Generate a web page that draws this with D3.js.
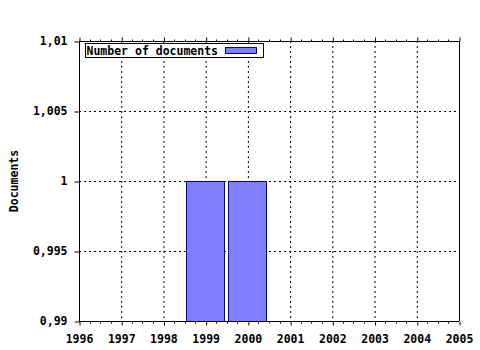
<!DOCTYPE html>
<html>
<head>
<meta charset="utf-8">
<script src="https://cdn.jsdelivr.net/npm/d3@7"></script>
<style>
    body { margin: 0; background: #fff; }
    text { font-family: "DejaVu Sans Mono", monospace; font-weight: bold; font-size: 11.5px; }
</style>
</head>
<body>
<div id="chart"></div>
<script>
// data
const years = [1999, 2000];
const documents = [1, 1];
const xTicks = [1996, 1997, 1998, 1999, 2000, 2001, 2002, 2003, 2004, 2005];
const yTicks = [0.99, 0.995, 1, 1.005, 1.01];
const seriesName = "Number of documents";

const margin = { top: 41, right: 21, bottom: 29, left: 79 };
const width = 480 - margin.left - margin.right;
const height = 350 - margin.top - margin.bottom;

const svg = d3.select("#chart")
    .append("svg")
    .attr("width", 480)
    .attr("height", 350)
    .append("g")
    .attr("transform", `translate(${margin.left},${margin.top})`);

const x = d3.scaleLinear().domain([1996, 2005]).range([0, width]);
const y = d3.scaleLinear().domain([0.99, 1.01]).range([height, 0]);

// grid
svg.append("g")
    .selectAll("line")
    .data(xTicks.slice(1, -1))
    .join("line")
    .attr("x1", d => x(d) + 0.5).attr("x2", d => x(d) + 0.5)
    .attr("y1", 0).attr("y2", height)
    .attr("stroke", "#000")
    .attr("stroke-dasharray", "2,3");
svg.append("g")
    .selectAll("line")
    .data(yTicks.slice(1, -1))
    .join("line")
    .attr("x1", 0).attr("x2", width)
    .attr("y1", d => Math.round(y(d)) + 0.5).attr("y2", d => Math.round(y(d)) + 0.5)
    .attr("stroke", "#000")
    .attr("stroke-dasharray", "2,3");

// bars
const barW = (x(1) - x(0)) * 0.9;
svg.append("g")
    .selectAll("rect")
    .data(years.map((yr, i) => [yr, documents[i]]))
    .join("rect")
    .attr("x", ([yr, _]) => Math.floor(x(yr) - barW / 2) + 0.5)
    .attr("y", ([_, v]) => Math.round(y(v)) + 0.5)
    .attr("width", Math.round(barW))
    .attr("height", ([_, v]) => height - Math.round(y(v)))
    .attr("fill", "#8080ff")
    .attr("stroke", "#0000a0")
    .attr("stroke-width", 1);

// minor x ticks (quarters)
const minor = [];
for (let t = 1996; t < 2005; t++) {
    for (let q = 1; q < 4; q++) minor.push(t + q / 4);
}

// bottom axis
const xAxis = d3.axisBottom(x)
    .tickValues(xTicks)
    .tickFormat(d3.format("d"))
    .tickSize(4)
    .tickPadding(9);
const gx = svg.append("g")
    .attr("transform", `translate(0,${height + 0.5})`)
    .call(xAxis);
gx.select(".domain").attr("d", `M0,0H${width}`);
gx.selectAll("line").attr("transform", "translate(0.5,0)");
gx.selectAll(".minor")
    .data(minor)
    .join("line")
    .attr("class", "minor")
    .attr("x1", d => Math.round(x(d)) + 0.5).attr("x2", d => Math.round(x(d)) + 0.5)
    .attr("y1", 0).attr("y2", 2)
    .attr("stroke", "#000");

// top axis (ticks only)
const gt = svg.append("g")
    .attr("transform", "translate(0,0.5)")
    .call(d3.axisTop(x).tickValues(xTicks).tickFormat("").tickSize(4));
gt.select(".domain").attr("d", `M0,0H${width}`);
gt.selectAll("line").attr("transform", "translate(0.5,0)");
gt.selectAll(".minor")
    .data(minor)
    .join("line")
    .attr("class", "minor")
    .attr("x1", d => Math.round(x(d)) + 0.5).attr("x2", d => Math.round(x(d)) + 0.5)
    .attr("y1", 0).attr("y2", -2)
    .attr("stroke", "#000");

// left axis
const gy = svg.append("g")
    .attr("transform", "translate(0.5,0)")
    .call(d3.axisLeft(y)
        .tickValues(yTicks)
        .tickFormat(d => String(+d.toFixed(3)).replace(".", ","))
        .tickSize(5)
        .tickPadding(7));
gy.select(".domain").attr("d", `M0,0V${height}`);
gy.selectAll(".tick line").attr("transform", "translate(0,0.5)");

// right axis line
svg.append("line")
    .attr("x1", width + 0.5).attr("x2", width + 0.5)
    .attr("y1", 0).attr("y2", height)
    .attr("stroke", "#000");

svg.selectAll(".tick text")
    .attr("fill", "#000")
    .style("font-family", "\"DejaVu Sans Mono\", monospace")
    .style("font-weight", "bold")
    .style("font-size", "11.5px");

// y label
svg.append("text")
    .attr("text-anchor", "middle")
    .attr("transform", `translate(${-margin.left + 18},${height / 2}) rotate(-90)`)
    .text("Documents");

// legend
const legend = svg.append("g").attr("transform", "translate(6.5,2.5)");
legend.append("rect")
    .attr("width", 178).attr("height", 14)
    .attr("fill", "#fff").attr("stroke", "#000");
legend.append("text")
    .attr("x", 1).attr("y", 11)
    .text(seriesName);
legend.append("rect")
    .attr("x", 140).attr("y", 4)
    .attr("width", 31).attr("height", 6)
    .attr("fill", "#8080ff").attr("stroke", "#0000a0");
</script>
</body>
</html>
